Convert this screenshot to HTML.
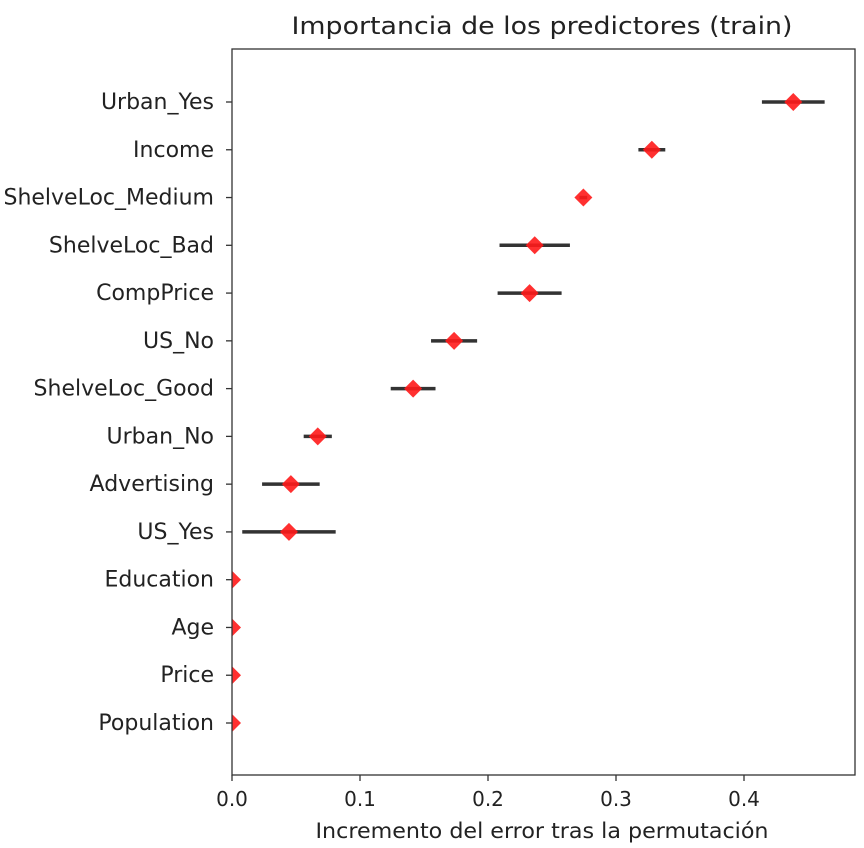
<!DOCTYPE html>
<html><head><meta charset="utf-8"><style>
body{margin:0;background:#fff;font-family:"Liberation Sans","DejaVu Sans",sans-serif}
</style></head><body>
<svg id="chart" width="864" height="843" xmlns="http://www.w3.org/2000/svg" font-family="DejaVu Sans, Liberation Sans, sans-serif">
<defs><clipPath id="clip"><rect x="232" y="49" width="623" height="726"/></clipPath></defs>
<rect width="864" height="843" fill="#fff"/>
<text x="542" y="34" text-anchor="middle" font-size="24" textLength="501" lengthAdjust="spacingAndGlyphs" fill="#222">Importancia de los predictores (train)</text>
<g id="marks" clip-path="url(#clip)"></g>
<g id="axes"></g>
<rect x="232" y="49" width="623" height="726" fill="none" stroke="#333" stroke-width="1.3"/>
<text x="542" y="838" text-anchor="middle" font-size="21" textLength="453" lengthAdjust="spacingAndGlyphs" fill="#222">Incremento del error tras la permutación</text>
</svg>
<script>
const categories=["Urban_Yes","Income","ShelveLoc_Medium","ShelveLoc_Bad","CompPrice","US_No","ShelveLoc_Good","Urban_No","Advertising","US_Yes","Education","Age","Price","Population"];
const importances=[0.4385,0.328,0.2745,0.2365,0.2325,0.1735,0.1415,0.067,0.046,0.0445,0,0,0,0];
const errors=[0.0245,0.0105,0.003,0.0275,0.025,0.018,0.0175,0.011,0.0225,0.0365,0,0,0,0];
const xTicks=[0.0,0.1,0.2,0.3,0.4];
const xTickLabels=["0.0","0.1","0.2","0.3","0.4"];
const NS="http://www.w3.org/2000/svg";
const xs=v=>232+v*1280;
const ys=i=>102+i*((723-102)/(categories.length-1));
const marks=document.getElementById('marks'),axes=document.getElementById('axes');
function mk(tag,attrs,parent){const e=document.createElementNS(NS,tag);for(const k in attrs)e.setAttribute(k,attrs[k]);parent.appendChild(e);return e;}
categories.forEach((c,i)=>{
 const y=ys(i);
 if(errors[i]>0){const l=mk('line',{x1:xs(importances[i]-errors[i]),x2:xs(importances[i]+errors[i]),y1:y,y2:y,stroke:'#333','stroke-width':3.5},marks);
 
 }
 const x=xs(importances[i]);
 const d=mk('polygon',{points:`${x},${y-9} ${x+9},${y} ${x},${y+9} ${x-9},${y}`,fill:'#ff1a1a','fill-opacity':0.9},marks);
 
 
 mk('line',{x1:226,x2:232,y1:y,y2:y,stroke:'#333','stroke-width':1.3},axes);
 const t=mk('text',{x:214,y:y+7,'text-anchor':'end','font-size':22,fill:'#222'},axes);t.textContent=c;
 
 
});
xTicks.forEach((v,i)=>{
 const x=xs(v);
 mk('line',{x1:x,x2:x,y1:775,y2:781,stroke:'#333','stroke-width':1.3},axes);
 const t=mk('text',{x:x,y:806,'text-anchor':'middle','font-size':20,fill:'#222'},axes);t.textContent=xTickLabels[i];
 
 
});
</script>
</body></html>
